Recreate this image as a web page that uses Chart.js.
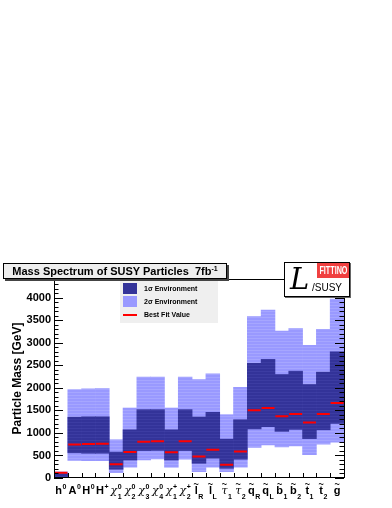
<!DOCTYPE html>
<html>
<head>
<meta charset="utf-8">
<script src="https://cdn.jsdelivr.net/npm/chart.js@4.4.0/dist/chart.umd.min.js"></script>
<style>
  html, body { margin: 0; padding: 0; background: #fff; }
  #wrap { position: relative; width: 392px; height: 508px; font-family: "Liberation Sans", Arial, sans-serif; }
  #chart { position: absolute; left: 0; top: 0; }
  .titlebox {
    position: absolute; left: 3px; top: 263px; width: 222px; height: 14px;
    background: #eeeeee; border: 1px solid #000; box-shadow: 2px 2px 0 #444;
    font-weight: bold; font-size: 11px; line-height: 14px; text-align: center; white-space: nowrap;
  }
  .titlebox sup { font-size: 7px; vertical-align: 4px; line-height: 0; }
  .logo {
    position: absolute; left: 284px; top: 262px; width: 64px; height: 33px;
    background: #fff; border: 1.5px solid #000; box-shadow: 1px 1px 0 #666; overflow: hidden;
  }
  .logo .fit {
    position: absolute; right: 0; top: 0; width: 32px; height: 15px; background: #f04040;
    color: #fff; font-weight: bold; font-size: 10px; line-height: 15px; text-align: center; overflow: hidden;
  }
  .logo .fit span { display: inline-block; transform: scaleX(0.72); transform-origin: center; margin: 0 -6px; }
  .logo .bigL {
    position: absolute; left: 5px; top: 1px; font-family: "DejaVu Serif", serif;
    font-style: italic; font-size: 29px; line-height: 30px;
  }
  .logo .susy {
    position: absolute; left: 27px; top: 19px; font-size: 10px; line-height: 12px;
  }
  .legend {
    position: absolute; left: 120px; top: 281px; width: 98px; height: 42px; background: #efefef;
    font-weight: bold; font-size: 7px;
  }
  .legend .row { position: absolute; left: 3px; height: 12px; }
  .legend .sw { position: absolute; left: 0; top: 0; width: 14px; height: 11px; }
  .legend .ln { position: absolute; left: 0; top: 5px; width: 14px; height: 1.5px; background: #ff0000; }
  .legend .tx { position: absolute; left: 21px; top: 0; line-height: 11px; white-space: nowrap; }
</style>
</head>
<body>
<div id="wrap">
  <canvas id="chart" width="392" height="508"></canvas>
  <div class="titlebox">Mass Spectrum of SUSY Particles&nbsp; 7fb<sup>-1</sup></div>
  <div class="logo">
    <div class="fit"><span>FITTINO</span></div>
    <div class="bigL">L</div>
    <div class="susy">/SUSY</div>
  </div>
  <div class="legend">
    <div class="row" style="top:2px"><div class="sw" style="background:#333399"></div><div class="tx">1σ Environment</div></div>
    <div class="row" style="top:15px"><div class="sw" style="background:#9999ff"></div><div class="tx">2σ Environment</div></div>
    <div class="row" style="top:28px"><div class="ln"></div><div class="tx">Best Fit Value</div></div>
  </div>
</div>
<script>
// particle data (GeV)
const categories = ['h0', 'A0', 'H0', 'H+', 'chi10', 'chi20', 'chi30', 'chi40', 'chi1+', 'chi2+',
  'lR', 'lL', 'tau1', 'tau2', 'qR', 'qL', 'b1', 'b2', 't1', 't2', 'g'];
const sigma2Low  = [5, 390, 385, 385, 120, 240, 400, 424, 238, 417, 141, 238, 141, 238, 680, 737, 690, 715, 520, 750, 797];
const sigma2High = [135, 1965, 1980, 1985, 850, 1555, 2240, 2240, 1555, 2240, 2188, 2314, 1406, 2016, 3587, 3728, 3266, 3318, 2946, 3304, 3973];
const sigma1Low  = [25, 560, 550, 550, 195, 400, 610, 613, 400, 610, 327, 440, 216, 417, 1090, 1140, 1035, 1080, 875, 1070, 1210];
const sigma1High = [100, 1350, 1360, 1360, 575, 1070, 1518, 1518, 1070, 1518, 1355, 1458, 863, 1295, 2545, 2634, 2299, 2373, 2076, 2351, 2805];
const bestFit    = [118, 745, 755, 760, 305, 575, 805, 818, 573, 815, 476, 625, 297, 588, 1503, 1555, 1369, 1421, 1235, 1421, 1667];

// axis tick labels, split into parts so sub/superscripts stack like ROOT
const tickBase  = ['h', 'A', 'H', 'H', 'χ', 'χ', 'χ', 'χ', 'χ', 'χ', 'l', 'l', 'τ', 'τ', 'q', 'q', 'b', 'b', 't', 't', 'g'];
const tickSup   = ['0', '0', '0', '+', '0', '0', '0', '0', '+', '+', '', '', '', '', '', '', '', '', '', '', ''];
const tickSub   = ['', '', '', '', '1', '2', '3', '4', '1', '2', 'R', 'L', '1', '2', 'R', 'L', '1', '2', '1', '2', ''];
const tickTilde = [0, 0, 0, 0, 0, 0, 0, 0, 0, 0, 1, 1, 1, 1, 1, 1, 1, 1, 1, 1, 1];
const yTicks = [0, 500, 1000, 1500, 2000, 2500, 3000, 3500, 4000];

function stripes(base, line) {
  const c = document.createElement('canvas');
  c.width = 4; c.height = 3;
  const g = c.getContext('2d');
  g.fillStyle = base; g.fillRect(0, 0, 4, 3);
  g.fillStyle = line; g.fillRect(0, 2, 4, 1);
  return g.createPattern(c, 'repeat');
}

const FONT = '"Liberation Sans", Arial, sans-serif';
const GREEK = 'italic 11px "DejaVu Serif", serif';

// frame, inward ticks and custom x labels
const rootAxes = {
  id: 'rootAxes',
  afterDatasetsDraw(chart) {
    const { ctx, chartArea: a, scales: { y } } = chart;
    ctx.save();
    ctx.strokeStyle = '#000';
    ctx.lineWidth = 1;
    ctx.strokeRect(Math.round(a.left) + 0.5, Math.round(a.top) + 0.5,
      Math.round(a.right - a.left), Math.round(a.bottom - a.top) - 1);
    ctx.beginPath();
    for (let v = 0; v <= y.max; v += 100) {
      const py = Math.round(y.getPixelForValue(v)) + 0.5;
      const len = v % 500 === 0 ? 9 : 4.5;
      ctx.moveTo(a.left, py); ctx.lineTo(a.left + len, py);
      ctx.moveTo(a.right, py); ctx.lineTo(a.right - len, py);
    }
    const step = (a.right - a.left) / categories.length;
    for (let i = 1; i < categories.length; i++) {
      const px = Math.round(a.left + i * step) + 0.5;
      ctx.moveTo(px, a.bottom); ctx.lineTo(px, a.bottom - 5);
    }
    ctx.stroke();
    ctx.restore();
  },
  afterDraw(chart) {
    const { ctx, scales: { x } } = chart;
    ctx.save();
    ctx.fillStyle = '#000';
    ctx.textBaseline = 'alphabetic';
    categories.forEach((c, i) => {
      const cx = x.getPixelForValue(i);
      const baseFont = /[χτ]/.test(tickBase[i]) ? GREEK : 'bold 11px ' + FONT;
      ctx.font = baseFont;
      const bw = ctx.measureText(tickBase[i]).width;
      ctx.font = 'bold 7px ' + FONT;
      const sw = Math.max(ctx.measureText(tickSup[i]).width, ctx.measureText(tickSub[i]).width);
      const total = bw + (sw ? sw + 0.5 : 0);
      const x0 = cx - total / 2;
      ctx.font = baseFont;
      ctx.textAlign = 'left';
      ctx.fillText(tickBase[i], x0, 494);
      if (tickTilde[i]) {
        ctx.font = 'bold 9px ' + FONT;
        ctx.textAlign = 'center';
        ctx.fillText('~', x0 + bw / 2, 487);
      }
      ctx.font = 'bold 7px ' + FONT;
      ctx.textAlign = 'left';
      if (tickSup[i]) ctx.fillText(tickSup[i], x0 + bw + 0.5, 489);
      if (tickSub[i]) ctx.fillText(tickSub[i], x0 + bw + 0.5, 499);
    });
    ctx.restore();
  }
};

const ctx = document.getElementById('chart').getContext('2d');
new Chart(ctx, {
  type: 'bar',
  data: {
    labels: categories,
    datasets: [
      {
        type: 'line',
        label: 'Best Fit Value',
        data: bestFit,
        showLine: false,
        pointStyle: 'line',
        pointRadius: 6.5,
        pointBorderWidth: 2,
        borderColor: '#ff0000',
        backgroundColor: '#ff0000',
        order: 0
      },
      {
        label: '1σ Environment',
        data: sigma1Low.map((lo, i) => [lo, sigma1High[i]]),
        backgroundColor: stripes('#333399', '#3c3ca2'),
        borderWidth: 0,
        grouped: false,
        barPercentage: 1,
        categoryPercentage: 1,
        order: 1
      },
      {
        label: '2σ Environment',
        data: sigma2Low.map((lo, i) => [lo, sigma2High[i]]),
        backgroundColor: stripes('#9999ff', '#a6a6ff'),
        borderWidth: 0,
        grouped: false,
        barPercentage: 1,
        categoryPercentage: 1,
        order: 2
      }
    ]
  },
  options: {
    responsive: false,
    animation: false,
    devicePixelRatio: 1,
    layout: { padding: { top: 279, right: 48, left: 0, bottom: 0 } },
    plugins: {
      legend: { display: false },
      tooltip: { enabled: false }
    },
    scales: {
      x: {
        grid: { display: false, drawTicks: false },
        border: { display: false },
        ticks: { display: false },
        afterFit: s => { s.height = 30; }
      },
      y: {
        min: 0,
        max: 4420,
        grid: { display: false, drawTicks: false },
        border: { display: false },
        afterFit: s => { s.width = 54; },
        afterBuildTicks: s => { s.ticks = yTicks.map(v => ({ value: v })); },
        ticks: {
          color: '#000',
          padding: 3,
          callback: v => String(v),
          font: { family: FONT, size: 11, weight: 'bold' }
        },
        title: {
          display: true,
          text: 'Particle Mass [GeV]',
          color: '#000',
          padding: { top: 10, bottom: 0 },
          font: { family: FONT, size: 12, weight: 'bold' }
        }
      }
    }
  },
  plugins: [rootAxes]
});
</script>
</body>
</html>
